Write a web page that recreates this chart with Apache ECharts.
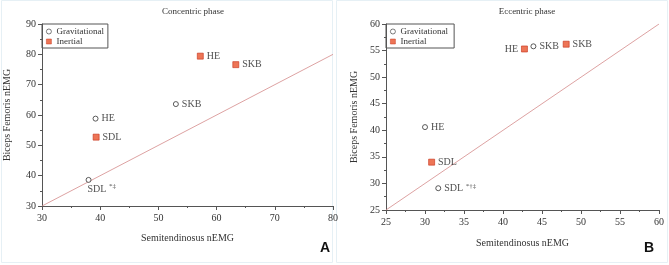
<!DOCTYPE html>
<html>
<head>
<meta charset="utf-8">
<script src="https://cdn.jsdelivr.net/npm/echarts@6/dist/echarts.min.js"></script>
<style>
  html, body { margin: 0; padding: 0; background: #fff; }
  #chart { width: 669px; height: 265px; }
</style>
</head>
<body>
<div id="chart"></div>
<script>
// Concentric phase (panel A)
const concentricNames = ["HE", "SKB", "SDL"];
const concentricGravX = [39.2, 53.0, 38.0];
const concentricGravY = [58.8, 63.6, 38.6];
const concentricInerX = [57.2, 63.3, 39.3];
const concentricInerY = [79.4, 76.6, 52.7];
const concentricGravLabels = ["HE", "SKB", "SDL {s|*‡}"];

// Eccentric phase (panel B)
const eccentricNames = ["HE", "SKB", "SDL"];
const eccentricGravX = [30.0, 43.9, 31.7];
const eccentricGravY = [40.6, 55.8, 29.1];
const eccentricInerX = [42.75, 48.1, 30.85];
const eccentricInerY = [55.3, 56.2, 34.0];
const eccentricGravLabels = ["HE", "SKB", "SDL {s|*†‡}"];

const SERIF = "'Liberation Serif', 'DejaVu Serif', serif";
const AXIS_COLOR = "#555";
const TEXT_COLOR = "#333";
const INERTIAL_COLOR = "#e8522c";

const chart = echarts.init(document.getElementById("chart"), null, { renderer: "canvas" });

function pairs(xs, ys) {
  return xs.map((x, i) => [x, ys[i]]);
}

function withLabels(points, labels, positions) {
  return points.map((p, i) => ({
    value: p,
    label: { show: true, formatter: labels[i], position: positions[i], distance: 3 },
  }));
}

function xAxis(gridIndex, min, max, interval, nameGap) {
  return {
    gridIndex, type: "value", min, max, interval,
    name: "Semitendinosus nEMG", nameLocation: "middle", nameGap,
    nameTextStyle: { fontFamily: SERIF, fontSize: 10, color: TEXT_COLOR },
    axisLine: { show: true, lineStyle: { color: AXIS_COLOR, width: 1 } },
    axisTick: { show: true, length: 4, lineStyle: { color: AXIS_COLOR } },
    minorTick: { show: true, splitNumber: 2, length: 2, lineStyle: { color: AXIS_COLOR } },
    axisLabel: { fontFamily: SERIF, fontSize: 10, color: TEXT_COLOR, margin: 7 },
    splitLine: { show: false },
  };
}

function yAxis(gridIndex, min, max, interval, nameGap) {
  return {
    gridIndex, type: "value", min, max, interval,
    name: "Biceps Femoris nEMG", nameLocation: "middle", nameGap,
    nameTextStyle: { fontFamily: SERIF, fontSize: 10, color: TEXT_COLOR },
    axisLine: { show: true, lineStyle: { color: AXIS_COLOR, width: 1 } },
    axisTick: { show: true, length: 4, lineStyle: { color: AXIS_COLOR } },
    minorTick: { show: true, splitNumber: 2, length: 2, lineStyle: { color: AXIS_COLOR } },
    axisLabel: { fontFamily: SERIF, fontSize: 10, color: TEXT_COLOR, margin: 6 },
    splitLine: { show: false },
  };
}

const gravStyle = { color: "#fff", borderColor: "#333", borderWidth: 1 };
const inerStyle = { color: INERTIAL_COLOR, borderColor: "#c8341c", borderWidth: 0.8 };
const labelStyle = {
  fontFamily: SERIF, fontSize: 10, color: "#222",
  rich: { s: { fontFamily: SERIF, fontSize: 7, color: "#222", padding: [0, 0, 5, 0] } },
};

function legend(left, names) {
  return {
    left, top: 24, orient: "vertical", itemWidth: 5, itemHeight: 5, itemGap: 1,
    padding: [3, 4, 2, 4], borderColor: AXIS_COLOR, borderWidth: 1,
    textStyle: { fontFamily: SERIF, fontSize: 9, color: TEXT_COLOR },
    data: [
      { name: names[0], icon: "circle", itemStyle: { color: "#fff", borderColor: "#333", borderWidth: 0.8 } },
      { name: names[1], icon: "rect", itemStyle: { color: INERTIAL_COLOR, borderColor: "#c8341c", borderWidth: 0.6 } },
    ],
  };
}

const option = {
  backgroundColor: "#fff",
  animation: false,
  title: [
    { text: "Concentric phase", left: 188, top: 2, textAlign: "center",
      textStyle: { fontFamily: SERIF, fontSize: 9, fontWeight: "normal", color: TEXT_COLOR } },
    { text: "Eccentric phase", left: 522, top: 2, textAlign: "center",
      textStyle: { fontFamily: SERIF, fontSize: 9, fontWeight: "normal", color: TEXT_COLOR } },
  ],
  legend: [legend(42, ["Gravitational", "Inertial"]), legend(386, ["Gravitational ", "Inertial "])],
  grid: [
    { left: 42, top: 24, width: 291, height: 182 },
    { left: 386, top: 24, width: 273, height: 186 },
  ],
  xAxis: [xAxis(0, 30, 80, 10, 27), xAxis(1, 25, 60, 5, 28)],
  yAxis: [yAxis(0, 30, 90, 10, 30), yAxis(1, 25, 60, 5, 27)],
  series: [
    { type: "line", xAxisIndex: 0, yAxisIndex: 0, data: [[30, 30], [80, 80]], symbol: "none",
      lineStyle: { color: "#d48a8a", width: 0.8 }, silent: true, z: 1 },
    { type: "line", xAxisIndex: 1, yAxisIndex: 1, data: [[25, 25], [60, 60]], symbol: "none",
      lineStyle: { color: "#d48a8a", width: 0.8 }, silent: true, z: 1 },
    { name: "Gravitational", type: "scatter", xAxisIndex: 0, yAxisIndex: 0,
      symbol: "circle", symbolSize: 5, itemStyle: gravStyle, label: labelStyle,
      data: withLabels(pairs(concentricGravX, concentricGravY), concentricGravLabels, ["right", "right", [2, 6]]) },
    { name: "Inertial", type: "scatter", xAxisIndex: 0, yAxisIndex: 0,
      symbol: "rect", symbolSize: 6, itemStyle: inerStyle, label: labelStyle,
      data: withLabels(pairs(concentricInerX, concentricInerY), concentricNames, ["right", "right", "right"]) },
    { name: "Gravitational ", type: "scatter", xAxisIndex: 1, yAxisIndex: 1,
      symbol: "circle", symbolSize: 5, itemStyle: gravStyle, label: labelStyle,
      data: withLabels(pairs(eccentricGravX, eccentricGravY), eccentricGravLabels, ["right", "right", "right"]) },
    { name: "Inertial ", type: "scatter", xAxisIndex: 1, yAxisIndex: 1,
      symbol: "rect", symbolSize: 6, itemStyle: inerStyle, label: labelStyle,
      data: withLabels(pairs(eccentricInerX, eccentricInerY), eccentricNames, ["left", "right", "right"]) },
  ],
  graphic: [
    { type: "rect", shape: { x: 1.5, y: 0.5, width: 331, height: 262 }, silent: true,
      style: { fill: "none", stroke: "#e6f0f5", lineWidth: 1 } },
    { type: "rect", shape: { x: 336.5, y: 0.5, width: 331, height: 262 }, silent: true,
      style: { fill: "none", stroke: "#e6f0f5", lineWidth: 1 } },
    { type: "text", left: 320, top: 241,
      style: { text: "A", font: "bold 14px 'Liberation Sans'", fill: "#111" } },
    { type: "text", left: 644, top: 241,
      style: { text: "B", font: "bold 14px 'Liberation Sans'", fill: "#111" } },
  ],
};

chart.setOption(option);
</script>
</body>
</html>
